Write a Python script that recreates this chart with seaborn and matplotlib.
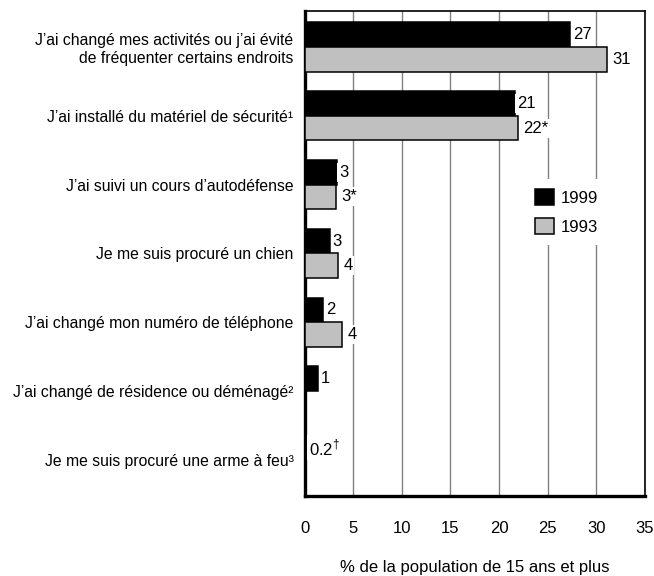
import numpy as np
import pandas as pd
import matplotlib
matplotlib.use('Agg')
import matplotlib.pyplot as plt
import seaborn as sns

categories = [
    "J\u2019ai changé mes activités ou j\u2019ai évité\nde fréquenter certains endroits",
    "J\u2019ai installé du matériel de sécurité\u00b9",
    "J\u2019ai suivi un cours d\u2019autodéfense",
    "Je me suis procuré un chien",
    "J\u2019ai changé mon numéro de téléphone",
    "J\u2019ai changé de résidence ou déménagé\u00b2",
    "Je me suis procuré une arme à feu\u00b3",
]
years = ['1999', '1993']
values_1999 = [27.3, 21.6, 3.3, 2.6, 1.9, 1.4, 0.2]
values_1993 = [31.1, 21.9, 3.2, 3.4, 3.9, np.nan, np.nan]
labels_1999 = ['27', '21', '3', '3', '2', '1', r'0.2$^{\dagger}$']
labels_1993 = ['31', '22*', '3*', '4', '4', '', '']
colors = {'1999': 'black', '1993': '#c0c0c0'}

df = pd.DataFrame({
    'categorie': categories * 2,
    'annee': ['1999'] * len(categories) + ['1993'] * len(categories),
    'pct': values_1999 + values_1993,
}).dropna()

sns.set_style('white')
plt.rcParams['font.family'] = ['Liberation Sans Narrow', 'Liberation Sans', 'DejaVu Sans']
plt.rcParams['mathtext.fontset'] = 'custom'
plt.rcParams['mathtext.rm'] = 'Liberation Sans'
plt.rcParams['text.color'] = 'black'
plt.rcParams['axes.labelcolor'] = 'black'
plt.rcParams['xtick.color'] = 'black'
plt.rcParams['ytick.color'] = 'black'

fig = plt.figure(figsize=(6.54, 5.76), dpi=100)
ax = fig.add_axes([0.4656, 0.139, 0.5206, 0.842])

sns.barplot(data=df, y='categorie', x='pct', hue='annee', order=categories,
            hue_order=years, palette=colors, orient='h', width=0.72,
            edgecolor='black', linewidth=1.1, errorbar=None, ax=ax, zorder=3)

# value labels, white box hides the grid behind them
box = dict(facecolor='white', edgecolor='none', pad=1.5)
ax.bar_label(ax.containers[0], labels=labels_1999, padding=2, fontsize=12,
             bbox=box, zorder=4)
ax.bar_label(ax.containers[1], labels=[l for l in labels_1993 if l], padding=4,
             fontsize=12, bbox=box, zorder=4)

ax.set_xlim(0, 35)
ax.set_ylim(len(categories) - 0.48, -0.52)
ax.set_xticks(range(0, 36, 5))
ax.xaxis.grid(True, color='#808080', linewidth=1.0, zorder=1)
ax.set_axisbelow(True)
ax.tick_params(axis='x', length=0, pad=18, labelsize=12)
ax.tick_params(axis='y', length=0, pad=8, labelsize=11.3)
for lab in ax.get_yticklabels():
    lab.set_horizontalalignment('right')
ax.set_ylabel('')
ax.set_xlabel('% de la population de 15 ans et plus', fontsize=12, labelpad=17)

for side in ['left', 'bottom']:
    ax.spines[side].set_linewidth(2.4)
    ax.spines[side].set_color('black')
for side in ['top', 'right']:
    ax.spines[side].set_linewidth(1.2)
    ax.spines[side].set_color('black')
    ax.spines[side].set_visible(True)

leg = ax.legend(loc='center', bbox_to_anchor=(0.77, 0.585), frameon=True,
                fontsize=12, handlelength=1.1, handleheight=1.1,
                labelspacing=0.75, handletextpad=0.4, borderpad=0.6)
leg.get_frame().set_edgecolor('none')
leg.get_frame().set_facecolor('white')
leg.get_frame().set_alpha(1)
leg.set_zorder(5)

fig.savefig('out.png', dpi=100)
